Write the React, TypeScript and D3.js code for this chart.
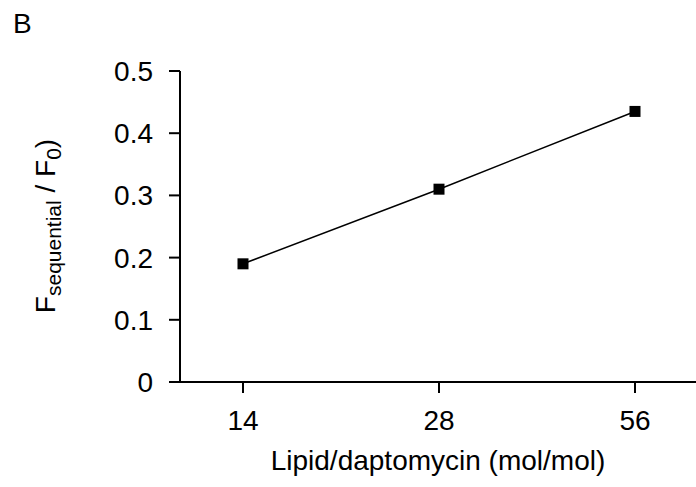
import React from "react";
import * as d3 from "d3";

// Lipid-to-daptomycin ratios and the sequential fluorescence ratio measured at each
const ratios = ["14", "28", "56"];
const fRatio = [0.19, 0.31, 0.435];
const yTicks = [0, 0.1, 0.2, 0.3, 0.4, 0.5];

const W = 696;
const H = 487;
const FONT = "Liberation Sans, Arial, Helvetica, sans-serif";
const FS = 28;
const SUB = 21;

export default function App() {
  const x0 = 180;
  const y0 = 382;
  const x = d3.scalePoint<string>().domain(ratios).range([243, 635]);
  const y = d3.scaleLinear().domain([0, 0.5]).range([y0, 71]);

  const data = ratios.map((r, i) => ({ r, v: fRatio[i] }));
  const line = d3
    .line<{ r: string; v: number }>()
    .x((d) => x(d.r) as number)
    .y((d) => y(d.v));

  return (
    <svg
      width={W}
      height={H}
      style={{ position: "absolute", left: 0, top: 0 }}
      fontFamily={FONT}
    >
      <rect width={W} height={H} fill="#fff" />
      <text x={13} y={33} fontSize={FS} fill="#000">B</text>

      {/* y axis */}
      <line x1={x0} x2={x0} y1={y(0)} y2={y(0.5)} stroke="#000" strokeWidth={2} />
      {yTicks.map((t) => (
        <g key={t}>
          <line x1={x0 - 11} x2={x0} y1={y(t)} y2={y(t)} stroke="#000" strokeWidth={2} />
          <text
            x={x0 - 27}
            y={y(t)}
            dy="0.36em"
            textAnchor="end"
            fontSize={FS}
            fill="#000"
          >
            {t === 0 ? "0" : d3.format(".1f")(t)}
          </text>
        </g>
      ))}

      {/* x axis */}
      <line x1={x0 - 11} x2={W} y1={y0} y2={y0} stroke="#000" strokeWidth={2} />
      {ratios.map((r) => (
        <g key={r}>
          <line x1={x(r)} x2={x(r)} y1={y0} y2={y0 + 11} stroke="#000" strokeWidth={2} />
          <text x={x(r)} y={430} textAnchor="middle" fontSize={FS} fill="#000">
            {r}
          </text>
        </g>
      ))}

      <path d={line(data) ?? ""} fill="none" stroke="#000" strokeWidth={1.5} />
      {data.map((d) => (
        <rect
          key={d.r}
          x={(x(d.r) as number) - 5.5}
          y={y(d.v) - 5.5}
          width={11}
          height={11}
          fill="#000"
        />
      ))}

      <text x={438} y={470} textAnchor="middle" fontSize={FS} fill="#000">
        Lipid/daptomycin (mol/mol)
      </text>

      <text
        transform="translate(55,226) rotate(-90)"
        textAnchor="middle"
        fontSize={FS}
        fill="#000"
      >
        F
        <tspan fontSize={SUB} dy={6}>sequential</tspan>
        <tspan dy={-6}> / F</tspan>
        <tspan fontSize={SUB} dy={6}>0</tspan>
        <tspan dy={-6}>)</tspan>
      </text>
    </svg>
  );
}
